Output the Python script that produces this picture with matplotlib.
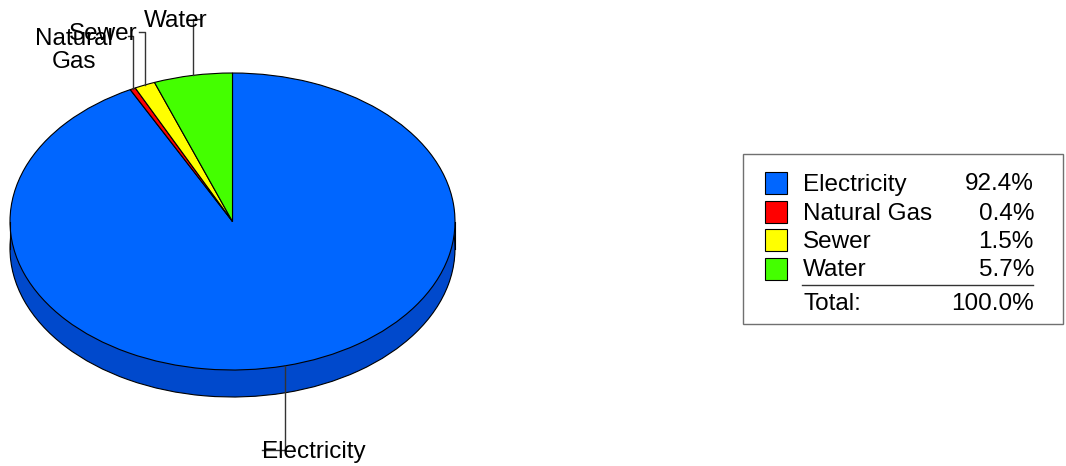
import numpy as np
import matplotlib
matplotlib.use('Agg')
import matplotlib.pyplot as plt
from matplotlib.patches import Rectangle

plt.rcParams['font.family'] = ['Liberation Sans', 'DejaVu Sans']

# data
categories = ['Electricity', 'Natural Gas', 'Sewer', 'Water']
values = [92.4, 0.4, 1.5, 5.7]
colors = ['#0066FF', '#FF0000', '#FFFF00', '#44FF00']
side_colors = ['#0049CC', '#B00000', '#B0B000', '#2EB000']
pie_labels = ['Electricity', 'Natural\nGas', 'Sewer', 'Water']

# layout in pixels
W, H = 1066, 466
cx, cy, rx, ry = 232.5, 221.5, 222.5, 148.5
depth = 27 / ry
fs = 17.5

fig = plt.figure(figsize=(W / 100, H / 100), dpi=100)

# pie axes: unit circle drawn as an ellipse by the non-equal aspect
ax = fig.add_axes([0, 0, 1, 1])
pie_kw = dict(startangle=90, counterclock=False, radius=1, frame=False)

# side of the 3d pie: stacked darker copies
n_layers = 40
for i in range(n_layers, 0, -1):
    ax.pie(values, colors=side_colors, center=(0, -depth * i / n_layers),
           wedgeprops=dict(linewidth=0), **pie_kw)
ax.pie(values, colors=side_colors, center=(0, -depth),
       wedgeprops=dict(fill=False, edgecolor='black', linewidth=0.8), **pie_kw)
ax.plot([-1, -1], [0, -depth], color='black', lw=0.8)
ax.plot([1, 1], [0, -depth], color='black', lw=0.8)

wedges, _ = ax.pie(values, colors=colors,
                   wedgeprops=dict(edgecolor='black', linewidth=0.8), **pie_kw)

ax.set_aspect('auto')
ax.set_xlim(-cx / rx, (W - cx) / rx)
ax.set_ylim(-(H - cy) / ry, cy / ry)
ax.axis('off')

# leader lines: label y (px), stub (px), text offset (px), alignment
leader_style = {
    'Electricity': dict(py=450, stub=-23, tdx=0, tdy=2, ha='left', va='center'),
    'Natural Gas': dict(py=36, stub=-5, tdx=-54, tdy=-8, ha='center', va='top'),
    'Sewer': dict(py=32, stub=-6, tdx=-1, tdy=2, ha='right', va='center'),
    'Water': dict(py=19, stub=8, tdx=7, tdy=2, ha='right', va='center'),
}
for w, cat, lab in zip(wedges, categories, pie_labels):
    st = leader_style[cat]
    mid = np.deg2rad((w.theta1 + w.theta2) / 2)
    x0, y0 = np.cos(mid), np.sin(mid)
    ytop = (cy - st['py']) / ry
    x1 = x0 + st['stub'] / rx
    ax.plot([x0, x0, x1], [y0, ytop, ytop], color='#333333', lw=1.0,
            zorder=5, clip_on=False)
    ax.text(x1 + st['tdx'] / rx, ytop - st['tdy'] / ry, lab, fontsize=fs,
            ha=st['ha'], va=st['va'], multialignment='center',
            linespacing=1.05, zorder=6)

# legend drawn in pixel coordinates
lg = fig.add_axes([0, 0, 1, 1])
lg.set_xlim(0, W)
lg.set_ylim(H, 0)
lg.axis('off')
lg.add_patch(Rectangle((743, 154), 320, 170, facecolor='white',
                       edgecolor='#707070', lw=1.0))
row_y = [183, 212, 240, 269]
total = sum(values)
for yy, cat, v, c in zip(row_y, categories, values, colors):
    lg.add_patch(Rectangle((765, yy - 11), 22, 22, facecolor=c,
                           edgecolor='black', lw=0.8))
    lg.text(803, yy + 1.5, cat, fontsize=fs, ha='left', va='center')
    lg.text(1034, yy + 1.5, f'{v / total * 100:.1f}%', fontsize=fs,
            ha='right', va='center')
lg.plot([802, 1033], [285, 285], color='#333333', lw=1.0)
lg.text(803, 304.5, 'Total:', fontsize=fs, ha='left', va='center')
lg.text(1034, 304.5, f'{total:.1f}%', fontsize=fs, ha='right', va='center')

plt.savefig('out.png', dpi=100)
